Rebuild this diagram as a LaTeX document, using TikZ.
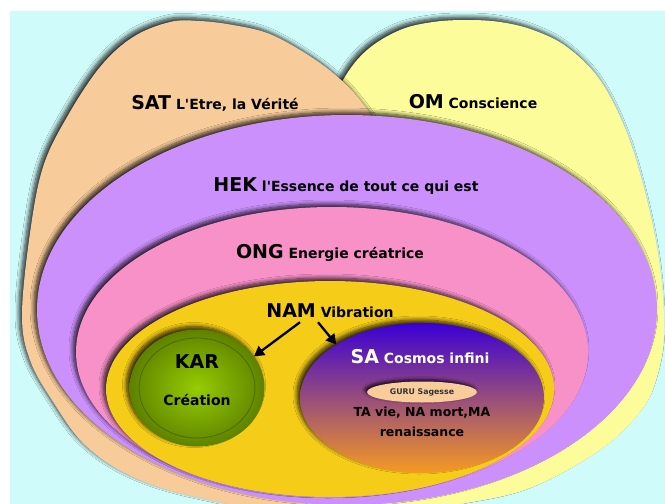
\documentclass[tikz,border=0pt]{standalone}
\usepackage{fontspec}
\setmainfont[Ligatures=TeXOff]{DejaVu Sans}
\usetikzlibrary{shapes.geometric,arrows.meta,shadows.blur}

\definecolor{sky}{HTML}{CFFCFB}
\definecolor{satc}{HTML}{F8CC9A}
\definecolor{omc}{HTML}{FCFC9A}
\definecolor{hekc}{HTML}{CC90FC}
\definecolor{ongc}{HTML}{F891C8}
\definecolor{namc}{HTML}{F5CC18}
\definecolor{karin}{HTML}{96CC00}
\definecolor{karmid}{HTML}{6A9200}
\definecolor{karout}{HTML}{486200}
\definecolor{satop}{HTML}{3A00D4}
\definecolor{samid}{HTML}{A66890}
\definecolor{sabot}{HTML}{F59A22}
\definecolor{guruc}{HTML}{F9CC9C}

\pgfdeclareradialshading{karshade}{\pgfpoint{0bp}{0bp}}{%
  color(0bp)=(karin); color(20bp)=(karmid); color(34bp)=(karout); color(50bp)=(karout)}

\newcommand\kw[1]{{\fontsize{19}{21}\selectfont #1}}

\tikzset{
  zone/.style={blur shadow={shadow xshift=-3pt, shadow yshift=3pt,
      shadow opacity=80, shadow blur radius=4pt, shadow blur steps=8}},
  lbl/.style={font=\bfseries\fontsize{14}{20}\selectfont, inner sep=1pt},
  arr/.style={line width=2.3pt, -{Triangle[length=10pt, width=11pt]}},
}

\begin{document}
\begin{tikzpicture}[x=1pt, y=-1pt]
	\useasboundingbox (0,0) rectangle (665,504);
	\fill[sky] (10,11) rectangle (665,504);
	\begin{scope}
		\clip (10,11) rectangle (665,504);
		% OM
		\fill[omc, zone] plot[smooth cycle, tension=0.6] coordinates {
			(343,80) (367,50) (400,30) (433,22) (467,20) (500,22) (533,30)
			(567,47) (600,80) (627,133) (647,200) (660,267) (664,333)
			(656,380) (640,412) (600,450) (530,488) (460,504) (400,515)
			(330,500) (300,400) (305,220) (320,130)};
		% SAT
		\fill[satc, zone] plot[smooth cycle, tension=0.6] coordinates {
			(22,315) (30,233) (43,167) (67,117) (100,67) (133,37) (170,22)
			(200,21) (233,25) (267,33) (300,50) (333,73) (360,100) (385,140)
			(402,210) (405,300) (390,400) (350,480) (280,508) (200,498)
			(133,477) (85,445) (52,400) (30,360)};
		% HEK, ONG, NAM
		\fill[hekc, zone] (347,310) ellipse [x radius=310pt, y radius=195pt];
		\fill[ongc, zone] (332,352) ellipse [x radius=256pt, y radius=145pt];
		\fill[namc, zone] (330,389) ellipse [x radius=224pt, y radius=108pt];
	\end{scope}

	\node[ellipse, minimum width=135pt, minimum height=117pt, inner sep=0pt,
		shading=karshade, zone] (kar) at (197,388) {};
	\draw[karout!70!black, opacity=.5, line width=.8pt] (kar.center) ellipse [x radius=58pt, y radius=50pt];
	\node[ellipse, minimum width=244pt, minimum height=150pt, inner sep=0pt,
		top color=satop, middle color=samid, bottom color=sabot, zone] (sa) at (422,398) {};
	\node[ellipse, fill=guruc, minimum width=110pt, minimum height=21pt, inner sep=0pt,
		blur shadow={shadow xshift=-2pt, shadow yshift=2pt, shadow opacity=85, shadow blur radius=3pt},
		font=\bfseries\fontsize{7.8}{9}\selectfont, text=black!80] (guru) at (422,392) {GURU Sagesse};

	\node[lbl] (sat) at (215,103) {\kw{SAT} L'Etre, la Vérité};
	\node[lbl] (om) at (473,102) {\kw{OM} Conscience};
	\node[lbl] (hek) at (346,186) {\kw{HEK} l'Essence de tout ce qui est};
	\node[lbl] (ong) at (330,253) {\kw{ONG} Energie créatrice};
	\node[lbl] (nam) at (330,311) {\kw{NAM} Vibration};
	\node[lbl] (karlbl) at (197,362) {\kw{KAR}};
	\node[lbl] (crea) at (197,400) {Création};
	\node[lbl, text=white] (salbl) at (420,357) {\kw{SA} Cosmos infini};
	\node[lbl, font=\bfseries\fontsize{12.5}{20}\selectfont, align=center] (tana) at (422,422) {TA vie, NA mort,MA\\renaissance};

	\draw[arr] ([xshift=-30pt, yshift=-3pt]nam.south) -- (kar.29);
	\draw[arr] ([xshift=-12pt, yshift=-3pt]nam.south) -- (sa.148);
\end{tikzpicture}
\end{document}
